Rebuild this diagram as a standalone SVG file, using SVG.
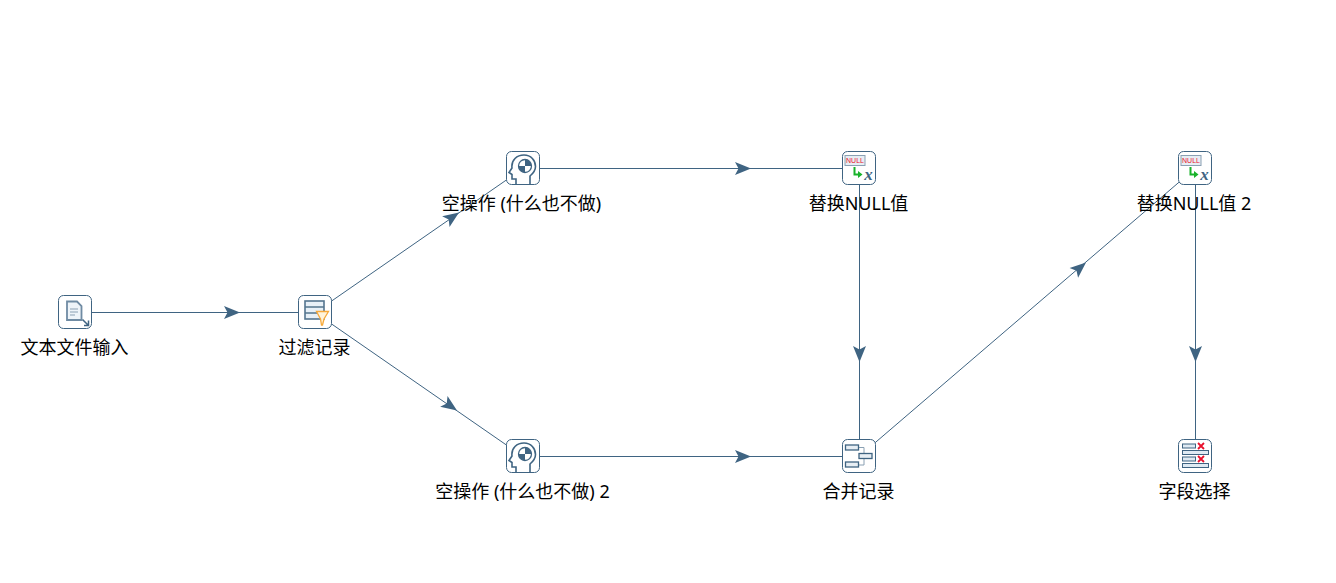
<svg xmlns="http://www.w3.org/2000/svg" width="1336" height="583" viewBox="0 0 1336 583">
<style>
text{font-family:"Noto Sans","Noto Sans CJK SC",sans-serif;font-size:18px;fill:#000;text-anchor:middle}
.box{fill:#fff;stroke:#3f6482;stroke-width:1}
.c{stroke:#3f6482;stroke-width:1;fill:none}
.a{fill:#3f6482;stroke:none}
.i{fill:none;stroke:#3f6482;stroke-width:1.600}
.l{fill:#eef4f9;stroke:#6f8ba3;stroke-width:1.800}
.x{stroke:#e8112d;stroke-width:1.800;fill:none}
</style>
<defs>
<g id="head"><path class="a" d="M-16-6.500 0 0-16 6.500-12.500 0z"/></g>
<g id="brain"><path class="i" d="M-7 16V11H-11V6.500L-14 4.500-11 0C-12-8-6-13 1-13 8-13 12.500-7.500 12.500-1.500 12.500 3 10 5.500 7 8V16"/><circle cx="2" cy="-2" r="6.500" fill="#fff" stroke="#3f6482" stroke-width="1.300"/><path d="M2-8.500A6.500 6.500 0 0 1 8.500-2H2z M2-2H-4.500A6.500 6.500 0 0 0 2 4.500z" fill="#3f6482"/></g>
<g id="nul"><rect x="-14" y="-12.500" width="20" height="10" fill="#e7eef4" stroke="#8aa0b3"/><text x="-4" y="-5.200" style="font-size:7px;font-family:'Liberation Sans',sans-serif;font-weight:normal;fill:#e8112d">NULL</text><path d="M-4.500-1V6.500H0" fill="none" stroke="#19b32b" stroke-width="2"/><path d="M3.500 6.500-1 3V10z" fill="#19b32b"/><text x="9.500" y="12" style="font-size:17px;font-family:'Liberation Serif',serif;font-style:italic;font-weight:bold;fill:#3f6482">x</text></g>
</defs>
<g id="connectors">
<path class="c" d="M75 312.500H315"/><use href="#head" transform="translate(240 312.500)"/>
<path class="c" d="M315 312.500 523 168.500"/><use href="#head" transform="translate(459 212.500) rotate(-34.700)"/>
<path class="c" d="M315 312.500 523 456.500"/><use href="#head" transform="translate(457 410.500) rotate(34.700)"/>
<path class="c" d="M523 168.500H859"/><use href="#head" transform="translate(751 168.500)"/>
<path class="c" d="M523 456.500H859"/><use href="#head" transform="translate(751 456.500)"/>
<path class="c" d="M859.500 168V456"/><use href="#head" transform="translate(859.500 362) rotate(90)"/>
<path class="c" d="M859 456.500 1195 168.500"/><use href="#head" transform="translate(1086 262.500) rotate(-40.600)"/>
<path class="c" d="M1195.500 168V456"/><use href="#head" transform="translate(1195.500 362) rotate(90)"/>
</g>
<g id="node-text-input"><rect class="box" x="58.500" y="295.500" width="33" height="33" rx="5"/>
<path class="l" d="M67 301.500H77L81.500 306V320H67z"/><path d="M70 309H78M70 312H78M70 315H75" stroke="#8aa0b3" fill="none"/><path d="M82.500 319.500 88 325M88.500 320.500V325.500H84" stroke="#3f6482" stroke-width="1.500" fill="none"/>
<text x="74.500" y="354">文本文件输入</text></g>
<g id="node-filter"><rect class="box" x="298.500" y="295.500" width="33" height="33" rx="5"/>
<rect x="305" y="301" width="19" height="18" fill="#e7f0f7" stroke="#54758f" stroke-width="1.600"/><path d="M305 307H324M305 313H324" stroke="#54758f" stroke-width="1.500"/><path d="M316.500 311.500H328.500L324 319 322.500 325H321.500L320.500 319z" fill="#fff4dc" stroke="#f6a93b" stroke-width="1.300"/>
<text x="314.500" y="354">过滤记录</text></g>
<g id="node-dummy-1"><rect class="box" x="506.500" y="151.500" width="33" height="33" rx="5"/><use href="#brain" transform="translate(523 168)"/>
<text x="521.500" y="210">空操作 (什么也不做)</text></g>
<g id="node-dummy-2"><rect class="box" x="506.500" y="439.500" width="33" height="33" rx="5"/><use href="#brain" transform="translate(523 456)"/>
<text x="522.500" y="498">空操作 (什么也不做) 2</text></g>
<g id="node-null-1"><rect class="box" x="842.500" y="151.500" width="33" height="33" rx="5"/><use href="#nul" transform="translate(859 168)"/>
<text x="858.500" y="210">替换NULL值</text></g>
<g id="node-null-2"><rect class="box" x="1178.500" y="151.500" width="33" height="33" rx="5"/><use href="#nul" transform="translate(1195 168)"/>
<text x="1194" y="210">替换NULL值 2</text></g>
<g id="node-merge"><rect class="box" x="842.500" y="439.500" width="33" height="33" rx="5"/>
<path d="M859 447.500H864V465H859" stroke="#8aa0b3" fill="none"/>
<rect x="845.500" y="445" width="13" height="5" fill="#e7eef4" stroke="#3f6482" stroke-width="1.300"/><rect x="859" y="453.500" width="13" height="5" fill="#e7eef4" stroke="#3f6482" stroke-width="1.300"/><rect x="845.500" y="462" width="13" height="5" fill="#e7eef4" stroke="#3f6482" stroke-width="1.300"/>
<text x="858.500" y="498">合并记录</text></g>
<g id="node-select"><rect class="box" x="1178.500" y="439.500" width="33" height="33" rx="5"/>
<rect x="1182.500" y="444" width="13" height="4" fill="#dfeaf3" stroke="#3f6482"/><rect x="1182.500" y="450.500" width="26" height="4" fill="#dfeaf3" stroke="#3f6482"/><rect x="1182.500" y="457" width="13" height="4" fill="#dfeaf3" stroke="#3f6482"/><rect x="1182.500" y="463.500" width="26" height="4" fill="#dfeaf3" stroke="#3f6482"/>
<path class="x" d="M1198 443 1204 449M1204 443 1198 449M1198 456 1204 462M1204 456 1198 462"/>
<text x="1194.500" y="498">字段选择</text></g>
</svg>
